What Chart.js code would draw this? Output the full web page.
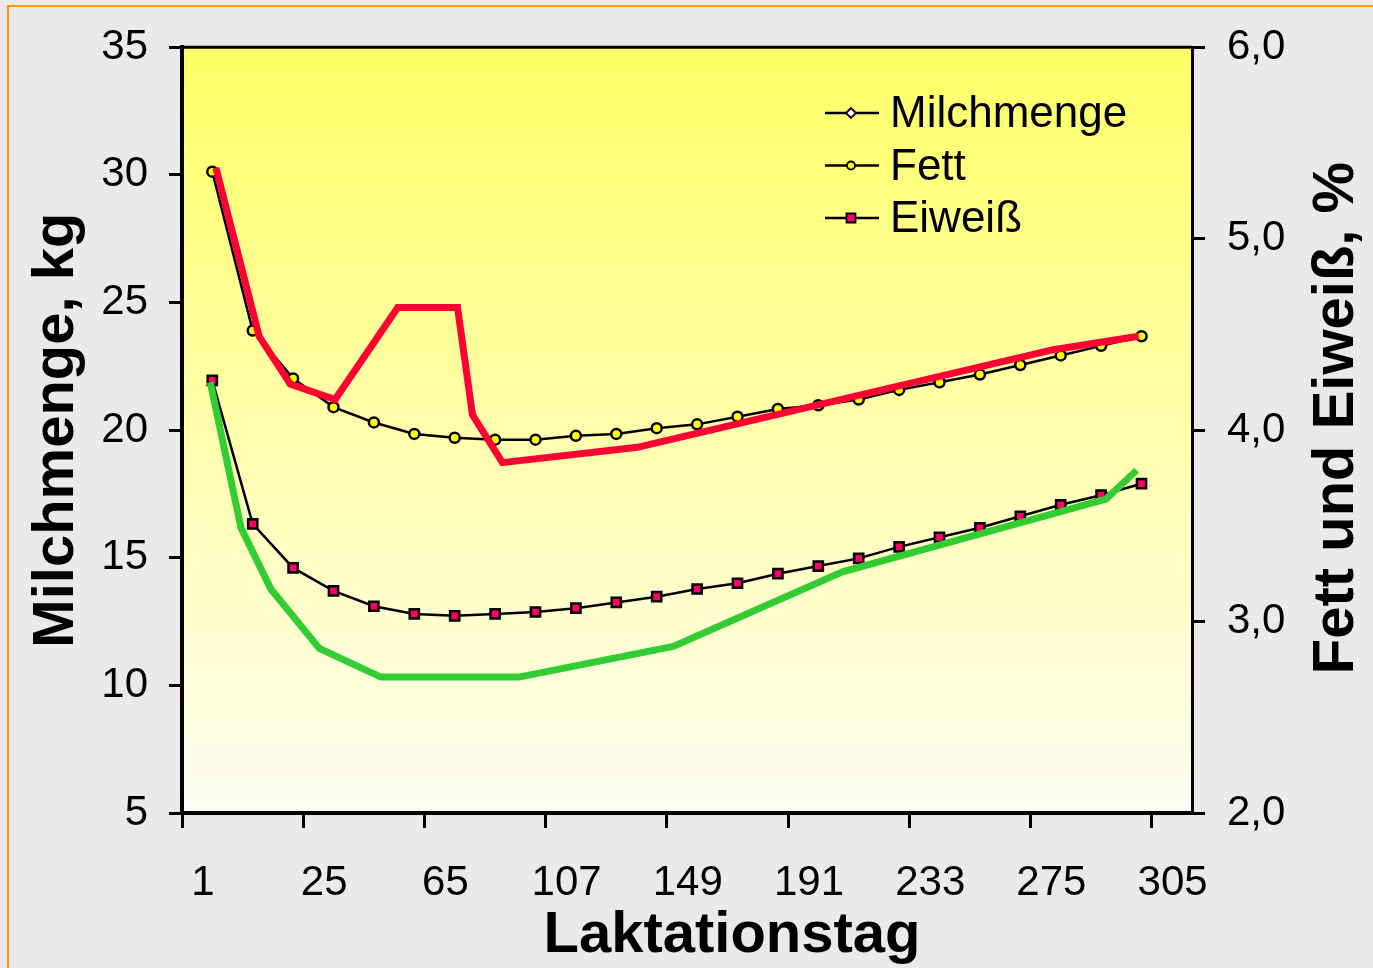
<!DOCTYPE html>
<html lang="de">
<head>
<meta charset="UTF-8">
<title>Laktationsverlauf</title>
<script src="https://cdn.jsdelivr.net/npm/chart.js@4.4.0/dist/chart.umd.min.js"></script>
<style>
  body { margin: 0; background: #eaeaea; overflow: hidden; }
  #frame { position: absolute; left: 7px; top: 5px; width: 1400px; height: 1000px;
           border-top: 2px solid #ff9900; border-left: 2px solid #ff9900; }
  #wrap { position: absolute; left: 0; top: 0; width: 1373px; height: 968px; }
</style>
</head>
<body>
<div id="frame"></div>
<div id="wrap"><canvas id="chart" width="1373" height="968"></canvas></div>
<script>
const FONT = "'Liberation Sans', Arial, sans-serif";

// x axis: category slots, ticks every third slot
const tickPos = [0, 3, 6, 9, 12, 15, 18, 21, 24];
const tickLabels = ['1', '25', '65', '107', '149', '191', '233', '275', '305'];

// marker positions (slot units)
const pointX = [0.75, 1.75, 2.75, 3.75, 4.75, 5.75, 6.75, 7.75, 8.75, 9.75, 10.75, 11.75,
                12.75, 13.75, 14.75, 15.75, 16.75, 17.75, 18.75, 19.75, 20.75, 21.75, 22.75, 23.75];

// series values (%)
const milchmenge = [];
const fett = [5.35, 4.52, 4.27, 4.12, 4.04, 3.98, 3.96, 3.95, 3.95, 3.97, 3.98, 4.01,
              4.03, 4.07, 4.11, 4.13, 4.16, 4.21, 4.25, 4.29, 4.34, 4.39, 4.44, 4.49];
const eiweiss = [4.26, 3.51, 3.28, 3.16, 3.08, 3.04, 3.03, 3.04, 3.05, 3.07, 3.10, 3.13,
                 3.17, 3.20, 3.25, 3.29, 3.33, 3.39, 3.44, 3.49, 3.55, 3.61, 3.66, 3.72];

// thick comparison lines
const redX = [0.84, 1.91, 2.68, 3.79, 5.34, 6.82, 7.19, 7.93, 11.27, 21.57, 23.68];
const redY = [5.37, 4.49, 4.24, 4.16, 4.64, 4.64, 4.08, 3.83, 3.91, 4.42, 4.49];
const greenX = [0.70, 1.46, 2.20, 3.40, 4.92, 8.34, 12.16, 16.35, 22.87, 23.63];
const greenY = [4.25, 3.49, 3.17, 2.86, 2.71, 2.71, 2.87, 3.26, 3.64, 3.79];

const pts = (xs, ys) => ys.map((y, i) => ({ x: xs[i], y: y }));

// background, top border, legend and the two extra axis titles
const decor = {
    id: 'decor',
    beforeDraw(chart) {
        const { ctx, chartArea: a } = chart;
        const g = ctx.createLinearGradient(0, a.top, 0, a.bottom);
        g.addColorStop(0, '#ffff66');
        g.addColorStop(1, '#fdfdf2');
        ctx.save();
        ctx.fillStyle = g;
        ctx.fillRect(a.left, a.top, a.right - a.left, a.bottom - a.top);
        ctx.restore();
    },
    afterDraw(chart) {
        const { ctx, chartArea: a } = chart;
        ctx.save();
        ctx.strokeStyle = '#000';
        ctx.lineWidth = 3;
        ctx.beginPath();
        ctx.moveTo(a.left, a.top);
        ctx.lineTo(a.right, a.top);
        ctx.stroke();

        // legend
        const entries = chart.data.datasets.filter(d => d.inLegend);
        entries.forEach((d, i) => {
            const y = 113 + i * 52.5;
            ctx.strokeStyle = '#000';
            ctx.lineWidth = 2.5;
            ctx.beginPath();
            ctx.moveTo(825, y);
            ctx.lineTo(879, y);
            ctx.stroke();
            ctx.fillStyle = d.pointBackgroundColor;
            ctx.lineWidth = 1.8;
            ctx.beginPath();
            if (d.pointStyle === 'rectRot') {
                ctx.moveTo(851, y - 5); ctx.lineTo(856, y); ctx.lineTo(851, y + 5); ctx.lineTo(846, y);
                ctx.closePath();
            } else if (d.pointStyle === 'rect') {
                ctx.rect(846.5, y - 4.5, 9, 9);
            } else {
                ctx.arc(851, y, 4, 0, Math.PI * 2);
            }
            ctx.fill();
            ctx.stroke();
            ctx.fillStyle = '#000';
            ctx.font = '44px ' + FONT;
            ctx.textAlign = 'left';
            ctx.textBaseline = 'middle';
            ctx.fillText(d.label, 890, y + 2);
        });

        // axis titles
        ctx.fillStyle = '#000';
        ctx.font = 'bold 58px ' + FONT;
        ctx.textAlign = 'center';
        ctx.textBaseline = 'middle';
        ctx.fillText('Laktationstag', 732, 936);
        ctx.translate(1337, 418);
        ctx.rotate(-Math.PI / 2);
        ctx.fillText('Fett und Eiweiß, %', 0, 0);
        ctx.restore();
    }
};

const tickFont = { size: 42, family: FONT };
const axisGrid = (len) => ({ drawOnChartArea: false, tickLength: len, lineWidth: 3, color: '#000' });

new Chart(document.getElementById('chart'), {
    type: 'line',
    data: {
        datasets: [
            {
                label: 'Milchmenge', data: milchmenge, yAxisID: 'y', inLegend: true,
                borderColor: '#000', borderWidth: 2.5, pointStyle: 'rectRot',
                pointBackgroundColor: '#ffffff', pointBorderColor: '#000', order: 1
            },
            {
                label: 'Fett', data: pts(pointX, fett), yAxisID: 'y1', inLegend: true,
                borderColor: '#000', borderWidth: 2.5, pointStyle: 'circle', pointRadius: 5,
                pointBackgroundColor: '#ffff00', pointBorderColor: '#000', pointBorderWidth: 2.5, order: 1
            },
            {
                label: 'Eiweiß', data: pts(pointX, eiweiss), yAxisID: 'y1', inLegend: true,
                borderColor: '#000', borderWidth: 2.5, pointStyle: 'rect', pointRadius: 6.5,
                pointBackgroundColor: '#ff0066', pointBorderColor: '#000', pointBorderWidth: 2.5, order: 1
            },
            {
                label: 'Fett (Linie)', data: pts(redX, redY), yAxisID: 'y1',
                borderColor: '#ff0033', borderWidth: 7, pointRadius: 0, order: 0
            },
            {
                label: 'Eiweiß (Linie)', data: pts(greenX, greenY), yAxisID: 'y1',
                borderColor: '#33cc33', borderWidth: 7, pointRadius: 0, order: 0
            }
        ]
    },
    options: {
        responsive: false,
        animation: false,
        events: [],
        layout: { padding: { top: 44, left: 0, right: 0, bottom: 0 } },
        elements: { line: { tension: 0 } },
        plugins: { legend: { display: false }, tooltip: { enabled: false } },
        scales: {
            x: {
                type: 'linear', min: 0, max: 25,
                afterBuildTicks: s => { s.ticks = tickPos.map(v => ({ value: v })); },
                ticks: {
                    callback: (v, i) => tickLabels[i],
                    autoSkip: false, maxRotation: 0, labelOffset: 21, padding: 30,
                    font: tickFont, color: '#000'
                },
                grid: axisGrid(15),
                border: { color: '#000', width: 4 },
                afterFit: s => { s.height = 155; }
            },
            y: {
                position: 'left', min: 5, max: 35,
                ticks: { stepSize: 5, padding: 21, font: tickFont, color: '#000' },
                grid: axisGrid(13),
                border: { color: '#000', width: 4 },
                title: {
                    display: true, text: 'Milchmenge, kg', color: '#000',
                    font: { size: 58, weight: 'bold', family: FONT }, padding: { top: 22 }
                },
                afterFit: s => { s.width = 182; }
            },
            y1: {
                position: 'right', min: 2, max: 6,
                ticks: {
                    stepSize: 1, padding: 22, font: tickFont, color: '#000',
                    callback: v => v.toFixed(1).replace('.', ',')
                },
                grid: axisGrid(13),
                border: { color: '#000', width: 3 },
                afterFit: s => { s.width = 181; }
            }
        }
    },
    plugins: [decor]
});
</script>
</body>
</html>
